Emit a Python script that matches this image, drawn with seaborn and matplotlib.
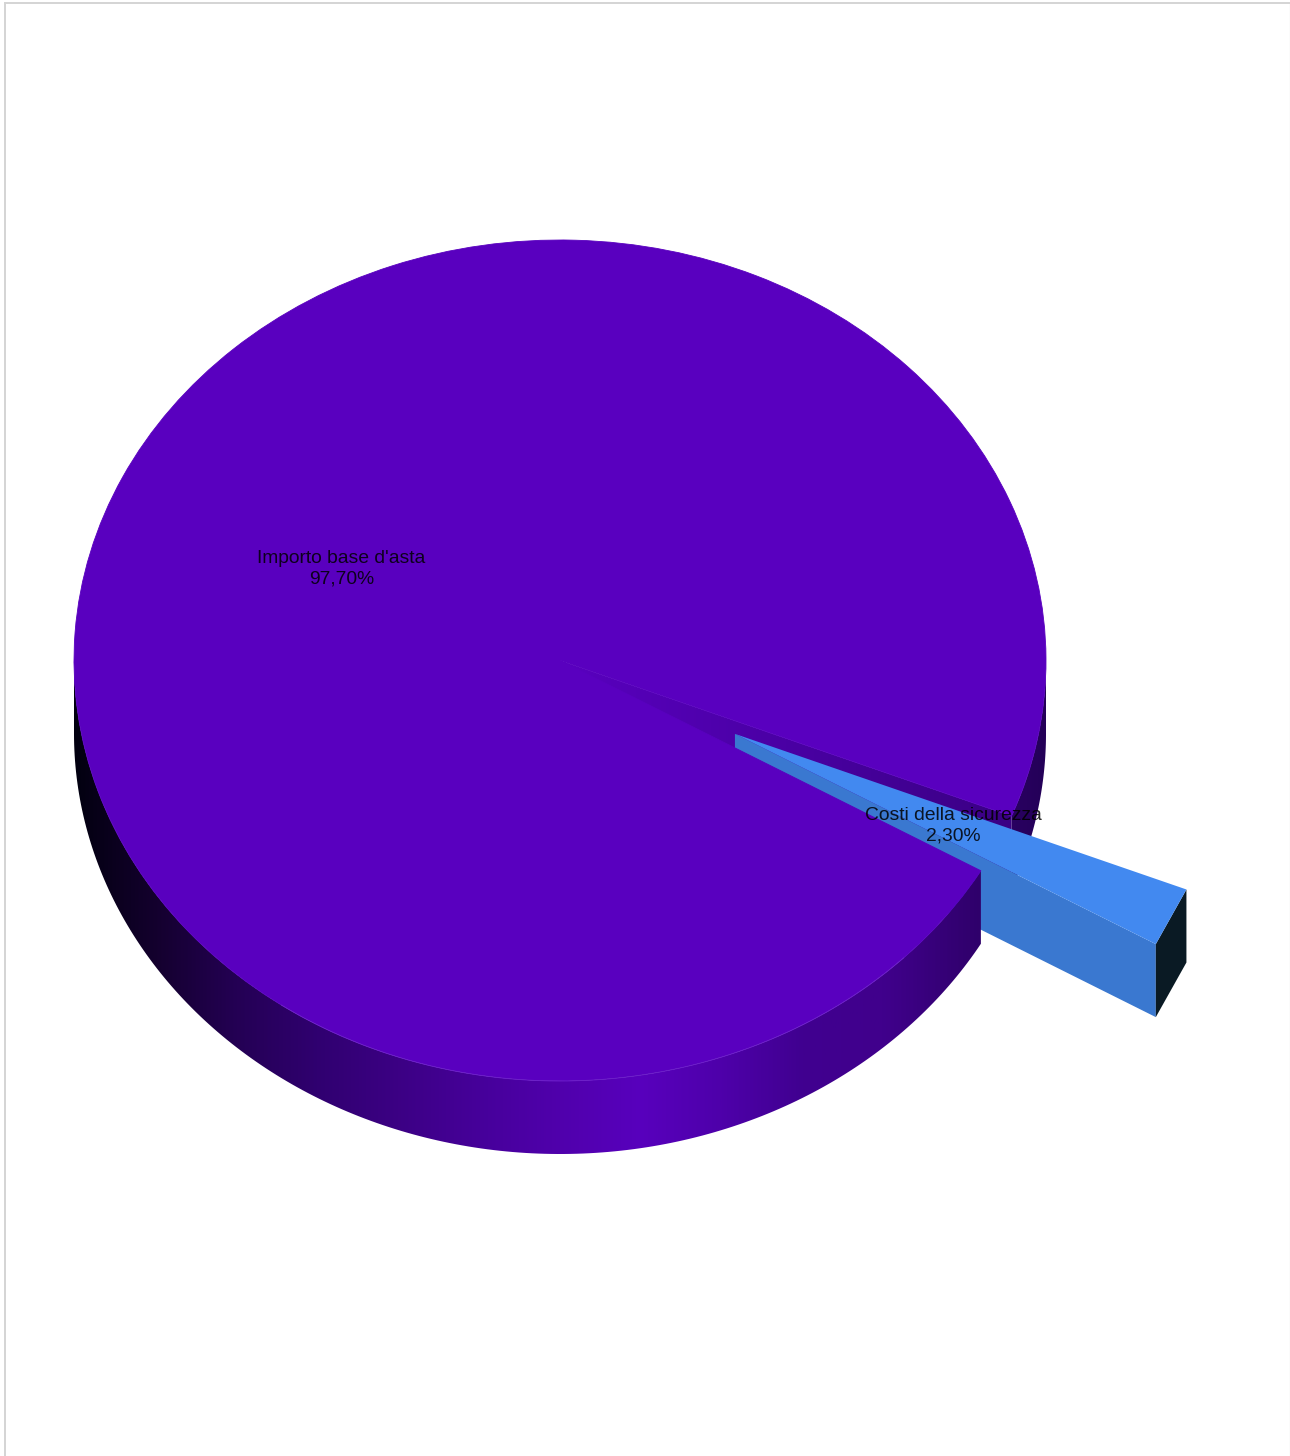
import numpy as np
import matplotlib
matplotlib.use("Agg")
import matplotlib.pyplot as plt
from matplotlib.patches import Polygon
import seaborn as sns

categories = ["Importo base d'asta", "Costi della sicurezza"]
values = [97.70, 2.30]
explode = [0, 0.4]
start_angle = -21.72

top_colors = ["#5900bf", "#4289f0"]
# shading of the rim, left to right across the pie
rim_stops = ["#020010", "#14002e", "#240054", "#300070", "#3c0084", "#46009a", "#5000ac",
             "#5800bd", "#4e00aa", "#400090", "#40008c", "#320070", "#240058"]
cut_stops = ["#5900bf", "#4a00a4", "#3a0084"]
blue_side = "#3a78d0"
blue_rim = "#0a1a24"
border = "#d4d4d4"

# pie placement in pixels
W, H = 1290, 1456
cx, cy, rx, ry = 560, 660.5, 486, 420.5
depth = 73 / ry
left, right, top = 5, 1289.5, 3.3

sns.set_theme(style="white")
plt.rcParams["font.family"] = ["Liberation Sans", "DejaVu Sans"]

fig = plt.figure(figsize=(W / 100, H / 100), dpi=100, facecolor="white")
ax = fig.add_axes([left / W, 0, (right - left) / W, 1 - top / H])

labels = [f"{c}\n{v:.2f}%".replace(".", ",") for c, v in zip(categories, values)]
wedges, texts = ax.pie(values, labels=labels, explode=explode, colors=top_colors,
                       startangle=start_angle, labeldistance=0.5, radius=1,
                       wedgeprops=dict(linewidth=0),
                       textprops=dict(ha="center", va="center", fontsize=13.9, color="black", alpha=0.85))
main, blue = wedges
main.set_zorder(5)
main.set_edgecolor(top_colors[0])
main.set_linewidth(0.6)
for t in texts:
    t.set_zorder(6)
    t.set_linespacing(1.3)


def arc(center, a1, a2, n=200):
    t = np.radians(np.linspace(a1, a2, n))
    return np.column_stack([center[0] + np.cos(t), center[1] + np.sin(t)])


def drop(pts):
    # side wall under a top edge: the edge, then the same edge lowered by the depth
    low = pts[::-1] - [0, depth]
    return np.vstack([pts, low])


def shaded(pts, stops, z, x0=None, x1=None):
    x0 = pts[:, 0].min() if x0 is None else x0
    x1 = pts[:, 0].max() if x1 is None else x1
    clip = Polygon(pts, closed=True, fc="none", ec="none", zorder=z)
    ax.add_patch(clip)
    cmap = sns.blend_palette(stops, n_colors=256, as_cmap=True)
    im = ax.imshow(np.linspace(0, 1, 512)[None, :], cmap=cmap, aspect="auto", zorder=z,
                   extent=[x0, x1, pts[:, 1].min(), pts[:, 1].max()])
    im.set_clip_path(clip)


# back part of the big slice: outer rim behind the gap and the cut face
shaded(drop(arc(main.center, main.theta1, 0)[::-1]), rim_stops, 1, -1, 1)
p = arc(main.center, main.theta1, main.theta1, 1)[0]
shaded(drop(np.array([main.center, p])), cut_stops, 1.5)

# pulled out slice, its outer end is a straight chord in the original
blue.set_visible(False)
chord = arc(blue.center, blue.theta1, blue.theta2, 2)
ax.add_patch(Polygon(drop(np.array([blue.center, chord[0]])), closed=True, fc=blue_side, ec="none", lw=0, zorder=2))
ax.add_patch(Polygon(drop(chord), closed=True, fc=blue_rim, ec="none", lw=0, zorder=2.5))
ax.add_patch(Polygon(np.vstack([blue.center, chord]), closed=True, fc=top_colors[1], ec="none", lw=0, zorder=3))

# front rim of the big slice
shaded(drop(arc(main.center, 180, main.theta2)), rim_stops, 4, -1, 1)

# faint light edge where the top meets the front rim
edge = arc(main.center, 235, 315)
ax.plot(edge[:, 0], edge[:, 1], color="#7a35d0", lw=0.6, alpha=0.6, zorder=5.5)

ax.set_aspect("auto")
ax.set_xlim((left - cx) / rx, (right - cx) / rx)
ax.set_ylim((cy - H) / ry, (cy - top) / ry)
ax.set_frame_on(True)
ax.set_xticks([])
ax.set_yticks([])
sns.despine(ax=ax, top=False, right=False, left=False, bottom=True)
for side in ["top", "left"]:
    ax.spines[side].set_color(border)
    ax.spines[side].set_linewidth(1.4)
ax.spines["right"].set_color("#eeeeee")
ax.spines["right"].set_linewidth(1)

fig.savefig("out.png", dpi=100)
